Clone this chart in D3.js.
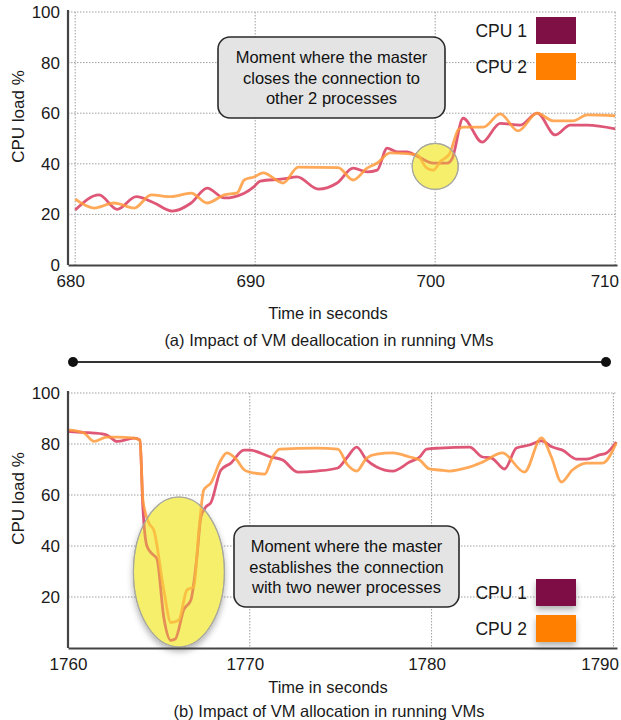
<!DOCTYPE html>
<html>
<head>
<meta charset="utf-8">
<script src="https://cdn.jsdelivr.net/npm/d3@7"></script>
<style>
  body { margin: 0; background: #fff; }
  svg { display: block; font-family: "Liberation Sans", Arial, sans-serif; }
</style>
</head>
<body>
<div id="chart"></div>
<script>
const WIDTH = 621;
const HEIGHT = 720;

const SERIES_NAMES = ["CPU 1", "CPU 2"];

// panel (a): VM deallocation
const A_X_TICKS = [680, 690, 700, 710];
const A_Y_TICKS = [0, 20, 40, 60, 80, 100];
const A_CPU1_T = [680, 681.33, 682.33, 683.39, 684.39, 685.39, 686.44, 687.33, 688.28, 689.39, 689.94, 690.28, 691.55, 692.33, 693.5, 694.55, 695.44, 696.22, 696.78, 697.33, 697.89, 698.44, 699, 699.89, 700.67, 700.94, 701.55, 702.61, 703.61, 704.72, 705.67, 706.67, 707.5, 708.44, 710];
const A_CPU1_V = [21.7, 27.7, 22, 27, 24.5, 21.3, 24.5, 30.4, 26.5, 28.4, 31, 33.2, 34, 34.8, 30, 32.4, 38.3, 36.8, 37.5, 46.2, 44.7, 44.7, 43, 40.3, 40.3, 42, 58, 48.6, 56, 55.3, 60, 51.4, 55.3, 55.3, 53.8];
const A_CPU2_T = [680, 681.05, 682.16, 683.28, 684.22, 685.33, 686.44, 687.33, 688.28, 689, 689.39, 689.94, 690.44, 691.55, 692.39, 694.61, 695.44, 696.22, 696.78, 697.5, 698.44, 699, 699.5, 699.89, 700.3, 700.8, 701.28, 701.55, 702.67, 703.61, 704.61, 705.67, 706.55, 707.67, 708.44, 710];
const A_CPU2_V = [26, 22.5, 24.5, 22.5, 27.7, 27, 28.4, 24.5, 27.7, 28.5, 33.6, 34.8, 36.4, 32.4, 38.7, 38.5, 33.6, 38.3, 40.3, 44.3, 44, 43.5, 38.5, 37.5, 41, 44, 53.4, 54.5, 54.5, 59.7, 53, 60, 57, 57, 59.3, 59];

// panel (b): VM allocation
const B_X_TICKS = [1760, 1770, 1780, 1790];
const B_Y_TICKS = [20, 40, 60, 80, 100];
const B_CPU1_T = [1760, 1760.9, 1761.43, 1762.14, 1762.69, 1763.63, 1763.96, 1764.12, 1764.34, 1764.62, 1764.89, 1765.27, 1765.66, 1765.9, 1766.37, 1766.76, 1767.09, 1767.31, 1767.58, 1767.86, 1768.41, 1768.96, 1769.67, 1770, 1771.1, 1771.81, 1772.64, 1773.68, 1774.84, 1775.33, 1775.88, 1776.43, 1776.98, 1777.86, 1778.79, 1779.34, 1779.73, 1780.44, 1782.09, 1782.8, 1783.3, 1784.01, 1784.67, 1785.38, 1786.04, 1786.65, 1787.2, 1787.97, 1788.52, 1789.23, 1789.62, 1790.16];
const B_CPU1_V = [85, 84.5, 84.3, 83.5, 81, 82.3, 81.5, 55, 40, 37, 35, 12, 3, 3.5, 15, 18.8, 35.7, 51.4, 55.3, 57, 69.8, 72.5, 77.6, 77.6, 75, 73.7, 69, 69.4, 70.6, 74.5, 78.8, 73.7, 71, 69.4, 72.9, 74.9, 78, 78.4, 78.8, 74.9, 74.5, 70.2, 78.4, 79.6, 81.2, 78.8, 77.6, 74.1, 74.1, 75.7, 76.5, 80.8];
const B_CPU2_T = [1760, 1760.88, 1761.43, 1762.14, 1762.69, 1763.63, 1763.96, 1764.12, 1764.45, 1764.73, 1765.27, 1765.66, 1766.1, 1766.54, 1766.92, 1767.2, 1767.47, 1767.86, 1768.41, 1768.74, 1769.29, 1769.67, 1770, 1770.82, 1771.26, 1771.65, 1773.68, 1774.84, 1775.38, 1775.88, 1776.43, 1776.98, 1777.86, 1778.79, 1779.34, 1779.89, 1780.44, 1780.99, 1781.92, 1782.8, 1783.9, 1785.11, 1786.04, 1786.59, 1787.14, 1787.75, 1788.52, 1789.4, 1790.16];
const B_CPU2_V = [85.5, 84.3, 81, 82.7, 82.7, 82.3, 81.5, 58, 49, 46, 22.7, 10, 11, 22.7, 24, 46, 62, 64.7, 73.7, 76.5, 73.7, 70, 69, 68.2, 75, 78, 78.4, 78, 71.8, 69.4, 74.5, 76, 76.5, 74.9, 73.7, 70.2, 69.8, 69.4, 70.6, 72.9, 76.5, 69, 82.4, 74.9, 65.1, 69.8, 72.5, 72.5, 80.4];

const LINE_COLORS = ["#d93a5e", "#ff9a3c"];
const SWATCH_COLORS = ["#7e1045", "#ff8000"];

const svg = d3.select("#chart")
  .append("svg")
  .attr("width", WIDTH)
  .attr("height", HEIGHT);

const defs = svg.append("defs");
const shadow = defs.append("filter").attr("id", "shadow")
  .attr("x", "-30%").attr("y", "-30%").attr("width", "160%").attr("height", "160%");
shadow.append("feDropShadow")
  .attr("dx", 0).attr("dy", 4).attr("stdDeviation", 3)
  .attr("flood-color", "#000").attr("flood-opacity", 0.3);

function drawPanel(p) {
  const g = svg.append("g");
  const x = d3.scaleLinear().domain(p.xDomain).range([68, 617]);
  const y = d3.scaleLinear().domain([0, 100]).range([p.bottom, p.top]);

  // grid
  g.append("g").selectAll("line")
    .data([20, 40, 60, 80, 100])
    .enter().append("line")
    .attr("x1", x.range()[0]).attr("x2", x.range()[1])
    .attr("y1", d => y(d)).attr("y2", d => y(d))
    .attr("stroke", "#a0a0a0").attr("stroke-width", 1)
    .attr("stroke-dasharray", "1.5,1.5");
  g.append("g").selectAll("line")
    .data(p.xTicks.filter(d => x(d) > 70))
    .enter().append("line")
    .attr("x1", d => x(d)).attr("x2", d => x(d))
    .attr("y1", y(100)).attr("y2", y(0))
    .attr("stroke", "#a0a0a0").attr("stroke-width", 1)
    .attr("stroke-dasharray", "1.5,1.5");

  // highlight (under the lines)
  const hl = p.highlight;
  g.append("ellipse")
    .attr("cx", x(hl.t)).attr("cy", y(hl.v))
    .attr("rx", hl.rx).attr("ry", hl.ry)
    .attr("fill", "#f7f288")
    .attr("stroke", "#b0b0a8").attr("stroke-width", 1.2)
    .attr("filter", hl.shadow ? "url(#shadow)" : null);

  // lines
  const line = d3.line()
    .x(d => x(d[0]))
    .y(d => y(d[1]))
    .curve(d3.curveMonotoneX);
  p.series.forEach((s, i) => {
    const pts = s.t.map((t, j) => [t, s.v[j]]);
    g.append("path")
      .datum(pts)
      .attr("d", line)
      .attr("fill", "none")
      .attr("stroke", LINE_COLORS[i])
      .attr("stroke-width", 2.8)
      .attr("stroke-opacity", 0.85)
      .attr("stroke-linejoin", "round");
  });

  // yellow tint over the lines inside the highlight
  g.append("ellipse")
    .attr("cx", x(hl.t)).attr("cy", y(hl.v))
    .attr("rx", hl.rx).attr("ry", hl.ry)
    .attr("fill", "#f2ea40").attr("fill-opacity", 0.38)
    .attr("stroke", "#a8a8a0").attr("stroke-width", 1.2);

  // axes
  const xAxis = d3.axisBottom(x).tickValues(p.xTicks).tickFormat(d3.format("d"))
    .tickSize(0).tickPadding(10);
  const yAxis = d3.axisLeft(y).tickValues(p.yTicks).tickSize(0).tickPadding(8);
  const gx = g.append("g").attr("transform", `translate(0, ${p.bottom})`).call(xAxis);
  const gy = g.append("g").attr("transform", `translate(68, 0)`).call(yAxis);
  [gx, gy].forEach(a => {
    a.select(".domain").attr("stroke", "#444").attr("stroke-width", 2.2);
    a.selectAll("text")
      .attr("fill", "#1a1a1a")
      .style("font-size", "17px")
      .style("font-family", "'Liberation Sans', Arial, sans-serif");
  });
  gy.select(".domain").attr("d", `M0,${y(100) - 2}V${y(0)}`);
  // keep the x labels slightly left, and inside the page on the right
  gx.selectAll(".tick").each(function () {
    const t = d3.select(this).select("text");
    const bb = this.getBoundingClientRect();
    let dx = x(d3.select(this).datum()) > 70 ? -5 : 0;
    if (bb.right + dx > WIDTH - 2) dx = WIDTH - 2 - bb.right;
    t.attr("dx", dx);
  });

  g.append("text")
    .attr("transform", `translate(24, ${(y(0) + y(100)) / 2 - 22}) rotate(-90)`)
    .attr("text-anchor", "middle")
    .attr("fill", "#1a1a1a")
    .style("font-size", "17px")
    .text("CPU load %");

  // annotation box
  const b = p.box;
  g.append("rect")
    .attr("x", b.x).attr("y", b.y).attr("width", b.w).attr("height", b.h)
    .attr("rx", 12)
    .attr("fill", "#e4e4e4").attr("stroke", "#2a2a2a").attr("stroke-width", 1.6);
  g.append("g").selectAll("text")
    .data(b.lines)
    .enter().append("text")
    .attr("x", b.x + b.w / 2)
    .attr("y", (d, i) => b.y + 26 + i * 20.5)
    .attr("text-anchor", "middle")
    .attr("fill", "#111")
    .style("font-size", "16.5px")
    .text(d => d);

  // legend
  const lg = g.append("g");
  SERIES_NAMES.forEach((name, i) => {
    const ly = p.legendY + i * 36;
    lg.append("rect")
      .attr("x", 536).attr("y", ly).attr("width", 40).attr("height", 27)
      .attr("fill", SWATCH_COLORS[i])
      .attr("filter", p.legendShadow ? "url(#shadow)" : null);
    lg.append("text")
      .attr("x", 527).attr("y", ly + 20)
      .attr("text-anchor", "end")
      .attr("fill", "#1a1a1a")
      .style("font-size", "17.5px")
      .text(name);
  });

  // titles
  g.append("text")
    .attr("x", 328).attr("y", p.titleY)
    .attr("text-anchor", "middle").attr("fill", "#1a1a1a")
    .style("font-size", "16.5px")
    .text("Time in seconds");
  g.append("text")
    .attr("x", 329).attr("y", p.captionY)
    .attr("text-anchor", "middle").attr("fill", "#1a1a1a")
    .style("font-size", "16.5px")
    .text(p.caption);
}

drawPanel({
  xDomain: [679.6, 710.1],
  xTicks: A_X_TICKS,
  yTicks: A_Y_TICKS,
  top: 12, bottom: 265,
  series: [{ t: A_CPU1_T, v: A_CPU1_V }, { t: A_CPU2_T, v: A_CPU2_V }],
  highlight: { t: 700, v: 39, rx: 23, ry: 23, shadow: false },
  box: { x: 218, y: 37, w: 227, h: 81,
    lines: ["Moment where the master", "closes the connection to", "other 2 processes"] },
  legendY: 17, legendShadow: false,
  titleY: 319, captionY: 346,
  caption: "(a) Impact of VM deallocation in running VMs"
});

drawPanel({
  xDomain: [1760, 1790.2],
  xTicks: B_X_TICKS,
  yTicks: B_Y_TICKS,
  top: 393, bottom: 648,
  series: [{ t: B_CPU1_T, v: B_CPU1_V }, { t: B_CPU2_T, v: B_CPU2_V }],
  highlight: { t: 1766.1, v: 29.8, rx: 45.5, ry: 75, shadow: true },
  box: { x: 234, y: 526, w: 225, h: 81,
    lines: ["Moment where the master", "establishes the connection", "with two newer processes"] },
  legendY: 579, legendShadow: true,
  titleY: 693, captionY: 717,
  caption: "(b) Impact of VM allocation in running VMs"
});

// separator between the panels
const SEP = [73, 606];
svg.append("line")
  .attr("x1", SEP[0]).attr("x2", SEP[1])
  .attr("y1", 362).attr("y2", 362)
  .attr("stroke", "#333").attr("stroke-width", 2);
svg.selectAll(".sepdot")
  .data(SEP)
  .enter().append("circle")
  .attr("class", "sepdot")
  .attr("cx", d => d).attr("cy", 362).attr("r", 5)
  .attr("fill", "#111");
</script>
</body>
</html>
